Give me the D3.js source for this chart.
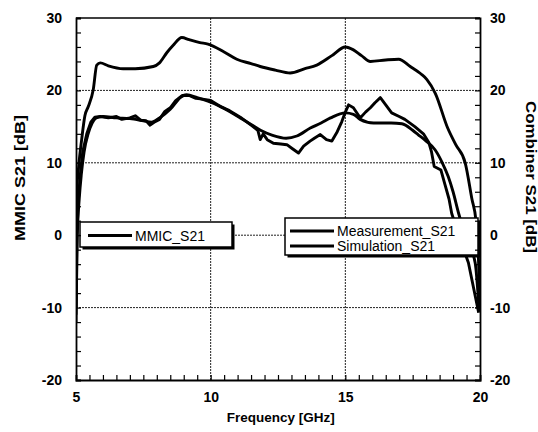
<!DOCTYPE html>
<html>
<head>
<meta charset="utf-8">
<script src="https://cdn.jsdelivr.net/npm/d3@7"></script>
<style>
  body { margin: 0; background: #fff; }
  text { font-family: "Liberation Sans", Arial, sans-serif; }
</style>
</head>
<body>
<div id="chart"></div>
<script>
// MMIC S21 (left axis)
var mmicFreq = [5.0, 5.01, 5.03, 5.1, 5.21, 5.33, 5.46, 5.64, 5.77, 5.9, 6.2, 6.75, 7.2, 7.87, 8.1, 8.37, 8.6, 8.93, 9.2, 9.6, 9.9, 10.5, 10.97, 11.5, 11.84, 12.4, 12.95, 13.5, 13.94, 14.5, 15.0, 15.3, 15.6, 15.93, 16.5, 16.98, 17.41, 17.8, 18.03, 18.34, 18.8, 19.1, 19.45, 19.7, 19.85, 19.95, 20.0];
var mmicS21 = [-12, 0, 6, 9.5, 13.2, 16.5, 17.8, 20.1, 23.5, 23.8, 23.4, 23.0, 23.0, 23.3, 23.8, 25.2, 26.2, 27.3, 27.0, 26.6, 26.4, 25.3, 24.3, 23.7, 23.3, 22.8, 22.4, 23.0, 23.5, 24.8, 26.0, 25.6, 24.8, 24.0, 24.2, 24.3, 23.3, 22.3, 21.5, 19.6, 14.8, 12.5, 10.0, 5.0, 2.0, -4.0, -10.5];

// Combiner S21, measurement
var measFreq = [5.0, 5.03, 5.09, 5.15, 5.25, 5.4, 5.55, 5.7, 5.9, 6.2, 6.5, 6.7, 7.0, 7.2, 7.4, 7.6, 7.75, 7.9, 8.1, 8.3, 8.5, 8.7, 8.95, 9.2, 9.45, 9.7, 10.0, 10.35, 10.7, 11.1, 11.5, 11.75, 11.84, 11.95, 12.1, 12.33, 12.6, 12.83, 13.05, 13.26, 13.45, 13.69, 13.85, 14.07, 14.3, 14.5, 14.7, 14.87, 15.0, 15.12, 15.3, 15.55, 15.75, 15.93, 16.1, 16.3, 16.5, 16.72, 17.0, 17.21, 17.58, 17.9, 18.1, 18.2, 18.3, 18.55, 18.7, 18.85, 18.95, 19.3, 19.57, 19.95];
var measS21 = [-10, 0, 5, 8, 11.5, 14.0, 15.6, 16.3, 16.4, 16.2, 16.4, 16.0, 16.2, 16.5, 15.9, 15.8, 15.2, 15.6, 16.0, 17.1, 17.6, 18.6, 19.3, 19.3, 18.9, 18.8, 18.6, 17.8, 17.2, 16.3, 15.2, 14.5, 13.2, 14.0, 13.2, 12.7, 12.6, 12.5, 11.9, 11.35, 12.3, 13.0, 13.4, 13.9, 13.2, 13.0, 14.3, 15.7, 17.0, 18.0, 17.6, 16.2, 17.0, 17.6, 18.3, 19.0, 18.0, 16.9, 16.4, 16.0, 15.0, 14.0, 12.8, 11.5, 9.5, 9.0, 7.0, 5.0, 3.0, -1.0, -3.8, -10.7];

// Combiner S21, simulation
var simFreq = [5.0, 5.05, 5.12, 5.2, 5.3, 5.45, 5.6, 5.75, 6.0, 6.5, 7.0, 7.5, 7.8, 8.1, 8.5, 8.9, 9.1, 9.5, 9.9, 10.35, 10.7, 11.1, 11.5, 11.85, 12.3, 12.8, 13.2, 13.7, 14.1, 14.45, 15.0, 15.3, 15.55, 16.05, 16.7, 17.1, 17.5, 17.7, 18.0, 18.33, 18.6, 18.82, 19.0, 19.2, 19.5, 19.82, 19.97];
var simS21 = [-11, 0, 5, 8.5, 11.5, 14.0, 15.5, 16.2, 16.4, 16.2, 16.1, 15.8, 15.6, 16.2, 17.4, 19.1, 19.4, 19.0, 18.5, 17.8, 17.1, 16.2, 15.3, 14.5, 13.8, 13.4, 13.7, 14.8, 15.5, 16.2, 16.9, 16.7, 16.0, 15.5, 15.5, 15.4, 14.5, 13.9, 13.0, 11.8, 10.0, 8.1, 6.0, 3.1, -0.5, -3.8, -10.5];

var xTicks = [5, 10, 15, 20];
var yTicks = [-20, -10, 0, 10, 20, 30];
var xGrid = [10, 15];
var yGrid = [-10, 0, 10, 20];

var margin = { top: 18, left: 76, right: 58, bottom: 52 },
  width = 538 - margin.left - margin.right,
  height = 432 - margin.top - margin.bottom;

var svg = d3.select("#chart")
  .append("svg")
  .attr("width", 538)
  .attr("height", 432)
  .append("g")
  .attr("transform", "translate(" + margin.left + "," + margin.top + ")");

var xPositionScale = d3.scaleLinear().domain([5, 20]).range([0, width]);
var yPositionScale = d3.scaleLinear().domain([-20, 30]).range([height, 0]);

svg.append("clipPath")
  .attr("id", "plot-clip")
  .append("rect")
  .attr("width", width)
  .attr("height", height);

// dotted grid
svg.selectAll(".xgrid")
  .data(xGrid)
  .enter().append("line")
  .attr("class", "xgrid")
  .attr("x1", function(d) { return xPositionScale(d) })
  .attr("x2", function(d) { return xPositionScale(d) })
  .attr("y1", 0)
  .attr("y2", height)
  .attr("stroke", "#222")
  .attr("stroke-width", 1)
  .attr("stroke-dasharray", "2,1");

svg.selectAll(".ygrid")
  .data(yGrid)
  .enter().append("line")
  .attr("class", "ygrid")
  .attr("x1", 0)
  .attr("x2", width)
  .attr("y1", function(d) { return yPositionScale(d) })
  .attr("y2", function(d) { return yPositionScale(d) })
  .attr("stroke", "#222")
  .attr("stroke-width", 1)
  .attr("stroke-dasharray", "2,1");

function pairs(xs, ys) {
  return xs.map(function(x, i) { return { freq: x, s21: ys[i] } });
}

var line = d3.line()
  .x(function(d) { return xPositionScale(d.freq) })
  .y(function(d) { return yPositionScale(d.s21) });

var curves = [
  { name: "mmic", data: pairs(mmicFreq, mmicS21), curve: d3.curveMonotoneX },
  { name: "sim", data: pairs(simFreq, simS21), curve: d3.curveMonotoneX },
  { name: "meas", data: pairs(measFreq, measS21), curve: d3.curveLinear }
];

curves.forEach(function(c) {
  svg.append("path")
    .datum(c.data)
    .attr("class", "curve " + c.name)
    .attr("clip-path", "url(#plot-clip)")
    .attr("d", line.curve(c.curve))
    .attr("fill", "none")
    .attr("stroke", "#000")
    .attr("stroke-width", 2.9)
    .attr("stroke-linejoin", "round");
});

// legends (white boxes with a heavy shadow edge)
function legendBox(x0, y0, x1, y1) {
  svg.append("rect")
    .attr("x", x0 - margin.left + 2.5)
    .attr("y", y0 - margin.top + 2.5)
    .attr("width", x1 - x0)
    .attr("height", y1 - y0)
    .attr("fill", "#000");
  svg.append("rect")
    .attr("x", x0 - margin.left)
    .attr("y", y0 - margin.top)
    .attr("width", x1 - x0)
    .attr("height", y1 - y0)
    .attr("fill", "#fff")
    .attr("stroke", "#000")
    .attr("stroke-width", 1.5);
}

function legendEntry(x0, x1, yLine, label) {
  svg.append("line")
    .attr("x1", x0 - margin.left)
    .attr("x2", x1 - margin.left)
    .attr("y1", yLine - margin.top)
    .attr("y2", yLine - margin.top)
    .attr("stroke", "#000")
    .attr("stroke-width", 3);
  svg.append("text")
    .attr("x", x1 - margin.left + 3)
    .attr("y", yLine - margin.top + 5)
    .attr("font-size", "14px")
    .text(label);
}

legendBox(80, 222, 232, 247);
legendEntry(88, 132, 235.5, "MMIC_S21");

legendBox(285, 218, 478, 255);
legendEntry(290, 334, 231, "Measurement_S21");
legendEntry(290, 334, 246, "Simulation_S21");

// axes with inward minor ticks
var leftAxis = d3.axisLeft(yPositionScale)
  .tickValues(d3.range(-20, 31, 2))
  .tickSize(-5)
  .tickPadding(14)
  .tickFormat(function(d) { return yTicks.indexOf(d) >= 0 ? d : "" });
svg.append("g").attr("class", "axis y-axis").call(leftAxis);

var rightAxis = d3.axisRight(yPositionScale)
  .tickValues(d3.range(-20, 31, 2))
  .tickSize(-5)
  .tickPadding(10)
  .tickFormat(function(d) { return yTicks.indexOf(d) >= 0 ? d : "" });
svg.append("g")
  .attr("class", "axis y-axis-right")
  .attr("transform", "translate(" + width + ",0)")
  .call(rightAxis);

var bottomAxis = d3.axisBottom(xPositionScale)
  .tickValues(d3.range(5, 20.01, 0.5))
  .tickSize(-5)
  .tickPadding(12)
  .tickFormat(function(d) { return xTicks.indexOf(d) >= 0 ? d : "" });
svg.append("g")
  .attr("class", "axis x-axis")
  .attr("transform", "translate(0," + height + ")")
  .call(bottomAxis);

svg.append("line")
  .attr("x1", 0).attr("x2", width)
  .attr("y1", 0).attr("y2", 0)
  .attr("stroke", "#000")
  .attr("stroke-width", 1.5);

svg.selectAll(".axis path").attr("stroke", "#000").attr("stroke-width", 1.8);
svg.selectAll(".axis line").attr("stroke", "#000").attr("stroke-width", 1.2);
svg.selectAll(".axis text")
  .attr("font-family", "Liberation Sans, Arial, sans-serif")
  .attr("font-size", "14px")
  .attr("font-weight", "bold")
  .attr("fill", "#000");

// axis titles
svg.append("text")
  .attr("x", xPositionScale(12.6))
  .attr("y", 422 - margin.top)
  .attr("text-anchor", "middle")
  .attr("font-size", "13.5px")
  .attr("font-weight", "bold")
  .text("Frequency [GHz]");

svg.append("text")
  .attr("transform", "translate(" + (25 - margin.left) + "," + (178 - margin.top) + ") rotate(-90)")
  .attr("text-anchor", "middle")
  .attr("font-size", "14px")
  .attr("font-weight", "bold")
  .attr("textLength", 126)
  .attr("lengthAdjust", "spacingAndGlyphs")
  .text("MMIC S21 [dB]");

svg.append("text")
  .attr("transform", "translate(" + (526 - margin.left) + "," + (177 - margin.top) + ") rotate(90)")
  .attr("text-anchor", "middle")
  .attr("font-size", "14px")
  .attr("font-weight", "bold")
  .attr("textLength", 152)
  .attr("lengthAdjust", "spacingAndGlyphs")
  .text("Combiner S21 [dB]");
</script>
</body>
</html>
